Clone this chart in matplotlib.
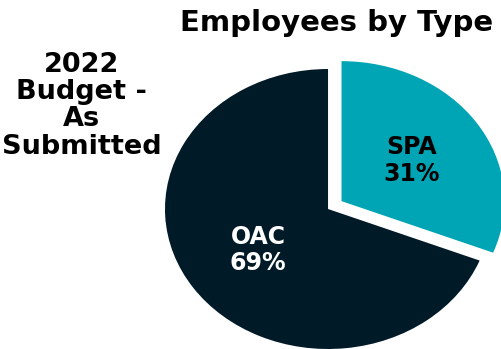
import matplotlib.pyplot as plt

# employee share by type
types = ['SPA', 'OAC']
shares = [31, 69]
colors = ['#00A5B5', '#011A27']
label_colors = ['black', 'white']
explode = [0.1, 0]

fig = plt.figure(figsize=(5.02, 3.49), dpi=100)
ax = fig.add_axes([0, 0, 1, 1])

total = sum(shares)
labels = [f"{t}\n{v / total * 100:.0f}%" for t, v in zip(types, shares)]

wedges, texts = ax.pie(shares, colors=colors, explode=explode, startangle=90,
                       counterclock=False, labels=labels, labeldistance=0.52,
                       textprops=dict(fontsize=17, fontweight='bold',
                                      ha='center', va='center',
                                      linespacing=1.15))
for t, c in zip(texts, label_colors):
    t.set_color(c)
    t.set_horizontalalignment('center')

# pie is drawn a bit wider than tall, and runs off the right/bottom edges
ax.set_aspect('auto')
ax.set_xlim(-2.012, 1.067)
ax.set_ylim(-1.0, 1.493)
ax.axis('off')

fig.text(0.67, 0.975, 'Employees by Type', fontsize=21, fontweight='bold',
         ha='center', va='top')
fig.text(0.163, 0.697, '2022\nBudget -\nAs\nSubmitted', fontsize=19.5,
         fontweight='bold', ha='center', va='center', linespacing=1.07)

fig.savefig('out.png', dpi=100)
